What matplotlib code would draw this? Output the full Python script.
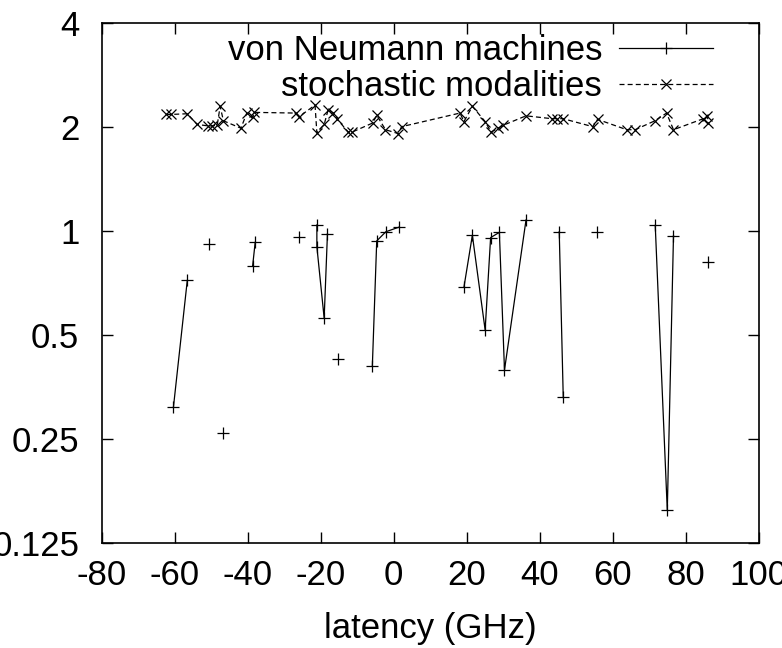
import numpy as np
import matplotlib
matplotlib.use("Agg")
import matplotlib.pyplot as plt
from matplotlib.ticker import FixedLocator, FixedFormatter

plt.rcParams["font.family"] = ["Liberation Sans", "DejaVu Sans"]

# von Neumann machines (nan = gap between line segments)
vn_x = [-60.3, -56.5, np.nan, -50.5, np.nan, -46.6, np.nan, -38.6, -37.9, np.nan,
        -25.9, np.nan, -21.0, -21.0, -19.0, -18.1, np.nan, -15.3, np.nan,
        -5.8, -4.6, -2.1, 1.4, np.nan,
        19.3, 21.6, 25.1, 26.6, 29.0, 30.4, 36.3, np.nan,
        45.4, 46.5, np.nan, 55.8, np.nan, 71.7, 75.0, 76.7, np.nan, 86.2]
vn_y = [0.308, 0.718, np.nan, 0.917, np.nan, 0.26, np.nan, 0.79, 0.925, np.nan,
        0.957, np.nan, 1.039, 0.899, 0.558, 0.98, np.nan, 0.424, np.nan,
        0.406, 0.934, 0.993, 1.023, np.nan,
        0.687, 0.97, 0.516, 0.955, 0.989, 0.395, 1.074, np.nan,
        0.993, 0.329, np.nan, 0.989, np.nan, 1.036, 0.155, 0.967, np.nan, 0.813]

# stochastic modalities
sm_x = [-62.3, -61.0, -56.5, -53.8, -50.7, -49.6, -48.3, -47.5, -46.6, -41.8,
        -40.2, -38.6, -38.1, -26.7, -25.8, -21.5, -21.0, -19.0, -17.9, -16.5,
        -15.4, -12.4, -11.3, -5.7, -4.6, -2.2, 1.3, 2.2,
        18.2, 19.3, 21.6, 25.1, 26.7, 28.7, 30.1, 36.3, 43.3, 44.7, 46.4,
        54.6, 55.9, 63.9, 66.2, 71.6, 74.8, 76.7, 84.9, 86.0, 86.2]
sm_y = [2.17, 2.17, 2.18, 2.03, 2.01, 2.01, 2.02, 2.29, 2.08, 1.98,
        2.19, 2.13, 2.20, 2.19, 2.14, 2.31, 1.92, 2.03, 2.24, 2.19,
        2.10, 1.93, 1.93, 2.05, 2.16, 1.96, 1.91, 2.00,
        2.19, 2.07, 2.29, 2.07, 1.93, 1.98, 2.02, 2.15, 2.11, 2.11, 2.11,
        2.00, 2.10, 1.96, 1.96, 2.08, 2.19, 1.96, 2.11, 2.15, 2.05]

y_ticks = [0.125, 0.25, 0.5, 1, 2, 4]
y_labels = ["0.125", "0.25", "0.5", "1", "2", "4"]
x_ticks = [-80, -60, -40, -20, 0, 20, 40, 60, 80, 100]

fs = 25

fig = plt.figure(figsize=(7.82, 6.48), dpi=100)
ax = fig.add_axes([0.1298, 0.1625, 0.8402, 0.8025])

ax.plot(vn_x, vn_y, color="black", lw=0.9, marker="+", ms=8, mew=0.9,
        label="von Neumann machines")
ax.plot(sm_x, sm_y, color="black", lw=0.9, ls=(0, (4, 2.5)), marker="x", ms=7,
        mew=0.9, label="stochastic modalities")

ax.set_yscale("log", base=2)
ax.set_ylim(0.125, 4)
ax.set_xlim(-80, 100)
ax.yaxis.set_major_locator(FixedLocator(y_ticks))
ax.yaxis.set_major_formatter(FixedFormatter(y_labels))
ax.yaxis.set_minor_locator(FixedLocator([]))
ax.set_xticks(x_ticks)
ax.set_xticklabels([str(t) for t in x_ticks])

ax.tick_params(direction="in", length=8, width=1, labelsize=fs,
               top=True, right=True)
ax.tick_params(axis="y", pad=16)
ax.tick_params(axis="x", pad=12)
for s in ax.spines.values():
    s.set_linewidth(1.2)

ax.set_xlabel("latency (GHz)", fontsize=fs, labelpad=14)

leg = ax.legend(loc="upper right", bbox_to_anchor=(0.952, 1.005), frameon=False,
                markerfirst=False, numpoints=1, fontsize=fs, handlelength=2.7,
                handletextpad=0.5, labelspacing=0.1, borderaxespad=0.0)

fig.savefig("out.png", dpi=100)
